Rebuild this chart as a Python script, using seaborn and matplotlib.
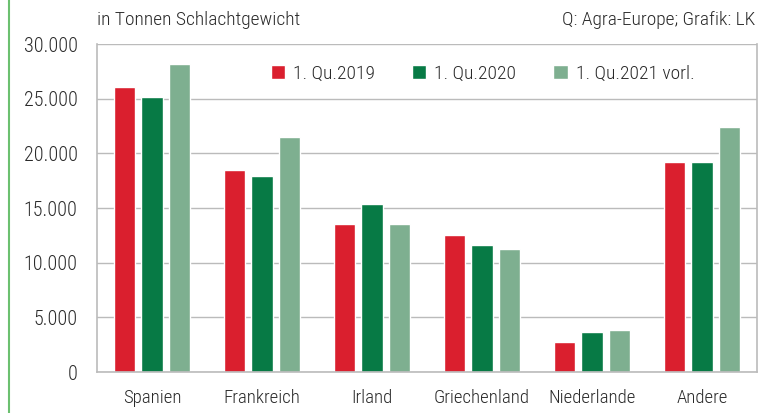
import matplotlib
matplotlib.use("Agg")
import matplotlib.pyplot as plt
import seaborn as sns
import pandas as pd
from matplotlib.lines import Line2D
from matplotlib.ticker import FuncFormatter, FixedLocator

categories = ["Spanien", "Frankreich", "Irland", "Griechenland", "Niederlande", "Andere"]
series_names = ["1. Qu.2019", "1. Qu.2020", "1. Qu.2021 vorl."]
q2019 = [26100, 18500, 13550, 12550, 2750, 19200]
q2020 = [25150, 17900, 15350, 11600, 3700, 19200]
q2021 = [28200, 21500, 13550, 11250, 3800, 22400]
colors = ["#DA1F2E", "#077A45", "#7EAF90"]

rows = []
for name, vals in zip(series_names, [q2019, q2020, q2021]):
    for c, v in zip(categories, vals):
        rows.append({"Land": c, "Serie": name, "Wert": v})
df = pd.DataFrame(rows)

sns.set_theme(style="white")
plt.rcParams["font.family"] = ["Roboto Condensed", "Liberation Sans Narrow", "Archivo Narrow", "DejaVu Sans"]
plt.rcParams["font.weight"] = 300
txt = "#2A2A2A"
gridc = "#BBBBBB"

fig = plt.figure(figsize=(7.58, 4.13), dpi=100)
ax = fig.add_axes([97/758, 41/413, 660/758, 328/413])

sns.barplot(data=df, x="Land", y="Wert", hue="Serie", order=categories,
            hue_order=series_names, palette=colors, width=0.74, gap=0.22,
            saturation=1, ax=ax, legend=True)

ax.set_ylim(0, 30000)
ax.set_xlim(-0.5, len(categories) - 0.5)
ax.set_yticks(range(0, 30001, 5000))
ax.yaxis.set_major_formatter(FuncFormatter(lambda v, p: f"{int(v):,}".replace(",", ".")))
ax.grid(axis="y", color=gridc, linewidth=1)
ax.set_axisbelow(True)
ax.set_xlabel("")
ax.set_ylabel("")

ax.xaxis.set_major_locator(FixedLocator([i - 0.5 for i in range(len(categories) + 1)]))
ax.xaxis.set_minor_locator(FixedLocator(list(range(len(categories)))))
ax.set_xticklabels([""] * (len(categories) + 1))
ax.set_xticklabels(categories, minor=True)
ax.tick_params(axis="x", which="major", length=7, width=1, color=gridc, direction="out")
ax.tick_params(axis="x", which="minor", length=0, pad=12, labelsize=13.5, labelcolor=txt)
ax.tick_params(axis="y", length=7, width=1, color=gridc, labelsize=14.5, labelcolor=txt, pad=7)

for s in ["left", "bottom", "right"]:
    ax.spines[s].set_visible(True)
    ax.spines[s].set_color(gridc)
    ax.spines[s].set_linewidth(1.2)
ax.spines["top"].set_visible(False)

leg = ax.legend(loc="upper center", bbox_to_anchor=(0.584, 0.99), ncol=3, frameon=False,
                fontsize=14, handlelength=0.75, handleheight=0.75, handletextpad=0.4,
                columnspacing=1.9)
for t in leg.get_texts():
    t.set_color(txt)

fig.text(97/758, 1 - 20/413, "in Tonnen Schlachtgewicht", ha="left", va="center",
         fontsize=14, color=txt)
fig.text(755/758, 1 - 20/413, "Q: Agra-Europe; Grafik: LK", ha="right", va="center",
         fontsize=14, color=txt)

fig.add_artist(Line2D([9/758, 9/758], [0, 1], transform=fig.transFigure,
                      color="#6CC070", linewidth=1.5))

fig.savefig("out.png", dpi=100)
